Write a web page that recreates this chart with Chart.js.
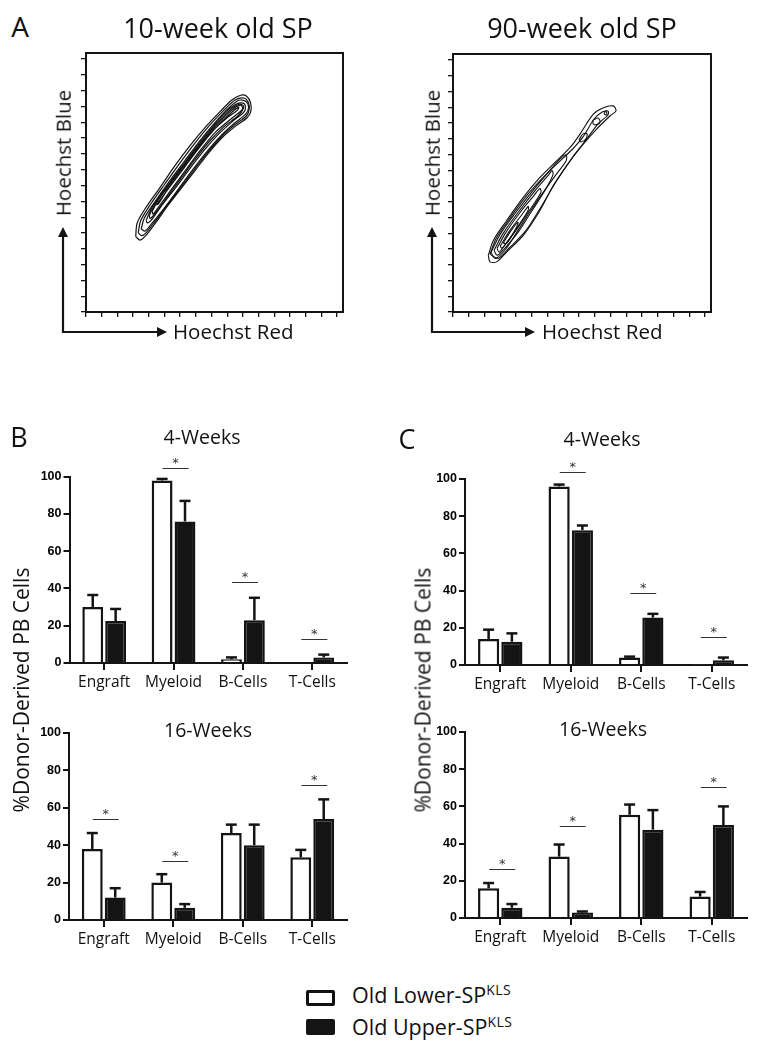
<!DOCTYPE html>
<html><head><meta charset="utf-8">
<script src="https://cdn.jsdelivr.net/npm/chart.js@4.4.1/dist/chart.umd.min.js"></script>
<style>
html,body{margin:0;padding:0;background:#fff;}
body{width:763px;height:1050px;position:relative;overflow:hidden;font-family:'Open Sans',sans-serif;color:#111;}
canvas{position:absolute;}
.t{position:absolute;white-space:nowrap;line-height:1;}
.cc{transform:translate(-50%,-50%);}
.cl{transform:translateY(-50%);}
.rot{transform:translate(-50%,-50%) rotate(-90deg);}
.box{position:absolute;box-sizing:border-box;border:3px solid #111;border-radius:2px;}
sup{font-size:14px;vertical-align:0;position:relative;top:-8px;letter-spacing:0.5px;}
</style></head><body>

<canvas id="sp10"></canvas>
<canvas id="sp90"></canvas>
<canvas id="b4"></canvas>
<canvas id="b16"></canvas>
<canvas id="c4"></canvas>
<canvas id="c16"></canvas>

<div class="t cc" style="left:20px;top:26px;font-size:28px;">A</div>
<div class="t cc" style="left:218px;top:27px;font-size:27px;">10-week old SP</div>
<div class="t cc" style="left:582px;top:27px;font-size:27px;">90-week old SP</div>
<div class="t rot" style="left:63px;top:153px;font-size:20.5px;">Hoechst Blue</div>
<div class="t rot" style="left:432px;top:153px;font-size:20.5px;">Hoechst Blue</div>
<div class="t cl" style="left:173px;top:331px;font-size:20.5px;">Hoechst Red</div>
<div class="t cl" style="left:542px;top:331px;font-size:20.5px;">Hoechst Red</div>

<div class="t cc" style="left:19px;top:436px;font-size:27px;">B</div>
<div class="t cc" style="left:407px;top:438px;font-size:27px;">C</div>
<div class="t cc" style="left:202px;top:437px;font-size:19.5px;">4-Weeks</div>
<div class="t cc" style="left:602px;top:439px;font-size:19.5px;">4-Weeks</div>
<div class="t cc" style="left:208px;top:730px;font-size:19.5px;">16-Weeks</div>
<div class="t cc" style="left:603px;top:729px;font-size:19.5px;">16-Weeks</div>
<div class="t rot" style="left:21px;top:690px;font-size:21px;">%Donor-Derived PB Cells</div>
<div class="t rot" style="left:423px;top:690px;font-size:21px;">%Donor-Derived PB Cells</div>

<div class="box" style="left:306px;top:990px;width:29px;height:16px;background:#fff;"></div>
<div class="box" style="left:306px;top:1019px;width:29px;height:16px;background:#141414;border-color:#141414;"></div>
<div class="t cl" style="left:352px;top:995px;font-size:21.5px;">Old Lower-SP<sup>KLS</sup></div>
<div class="t cl" style="left:352px;top:1027px;font-size:21.5px;">Old Upper-SP<sup>KLS</sup></div>

<script>
// ---------------- DATA ----------------
const categories = ['Engraft', 'Myeloid', 'B-Cells', 'T-Cells'];
const seriesNames = ['Old Lower-SP KLS', 'Old Upper-SP KLS'];

// Panel B, 4 weeks
const lowerB4 = [30, 98, 2, 0];
const lowerB4Err = [6.5, 0.8, 1, 0];
const upperB4 = [22.5, 76, 23, 3];
const upperB4Err = [6.5, 11, 12, 1.5];
const sigB4 = [null, 104.5, 43.5, 13];

// Panel B, 16 weeks
const lowerB16 = [38, 20, 46.5, 33.5];
const lowerB16Err = [8.5, 4.5, 4.5, 4];
const upperB16 = [12, 6.5, 40, 54];
const upperB16Err = [5, 2, 11, 10.5];
const sigB16 = [54, 31.5, null, 72];

// Panel C, 4 weeks
const lowerC4 = [14, 96, 4, 0.4];
const lowerC4Err = [5, 1, 0.5, 0];
const upperC4 = [12.5, 72.5, 25.5, 2.5];
const upperC4Err = [4.5, 2.5, 2, 1.5];
const sigC4 = [null, 103.5, 38.5, 15];

// Panel C, 16 weeks
const lowerC16 = [16, 33, 55.5, 11.5];
const lowerC16Err = [2.8, 6.5, 5.5, 2.5];
const upperC16 = [5.5, 3, 47.5, 50];
const upperC16Err = [2, 0.5, 10.5, 10];
const sigC16 = [26.5, 49.5, null, 70.5];

const yTicksPct = [0, 20, 40, 60, 80, 100];
const channelTicks = [0, 62.5, 125, 187.5, 250, 312.5, 375, 437.5, 500, 562.5, 625, 687.5, 750, 812.5, 875, 937.5, 1000];

// Contours, 10-week old SP (Hoechst Red, Hoechst Blue channels)
const sp10Level1 = [[198,298],[204,352],[240,415],[296,494],[356,581],[416,660],[476,731],[536,794],[580,837],[616,857],[640,853],[656,826],[656,790],[640,766],[596,735],[540,687],[488,628],[436,561],[380,490],[328,423],[280,356],[240,304],[216,284]];
const sp10Level1b = [[208,313],[218,361],[258,427],[314,506],[374,589],[434,668],[494,740],[552,800],[594,838],[628,846],[646,830],[650,800],[638,774],[594,741],[538,691],[484,630],[430,561],[374,488],[320,417],[272,354],[238,312],[222,302]];
const sp10Level2 = [[220,328],[232,371],[276,438],[332,517],[392,596],[452,675],[512,747],[568,806],[608,837],[636,833],[648,810],[636,782],[592,747],[536,695],[480,632],[424,561],[368,486],[312,411],[264,352],[236,320]];
const sp10Level3 = [[240,363],[264,415],[320,494],[380,573],[440,652],[500,727],[560,794],[608,826],[632,822],[632,794],[584,754],[528,703],[468,636],[412,565],[356,490],[300,419],[260,363],[244,352]];
const sp10Level3b = [[252,381],[276,429],[332,506],[392,585],[452,662],[512,735],[570,796],[612,822],[628,812],[608,778],[550,733],[492,675],[434,603],[378,528],[324,455],[280,395],[256,370]];
const sp10Level4 = [[264,399],[288,442],[344,517],[404,596],[464,672],[524,743],[580,798],[616,818],[624,802],[576,762],[516,711],[456,640],[400,565],[344,490],[292,419],[268,387]];
const sp10Level5 = [[280,423],[336,498],[396,577],[456,656],[516,727],[572,782],[608,810],[604,798],[560,766],[504,715],[444,644],[388,569],[328,490],[288,427]];

// Contours, 90-week old SP
const sp90Level1 = [[140,225],[160,284],[213,363],[279,455],[345,534],[398,587],[465,653],[504,706],[557,785],[597,811],[636,818],[647,798],[623,778],[570,726],[517,666],[465,600],[398,502],[345,403],[279,304],[213,238],[173,199],[147,199]];
const sp90Level1b = [[147,229],[171,292],[222,367],[286,454],[353,529],[409,585],[472,644],[516,695],[560,766],[592,794],[615,798],[615,782],[576,747],[528,683],[476,616],[409,517],[353,423],[290,324],[222,253],[179,213]];
const sp90Level2 = [[151,237],[187,308],[246,391],[314,478],[377,553],[425,608],[449,624],[449,600],[409,545],[357,474],[306,399],[258,324],[206,245],[167,213]];
const sp90Level3 = [[163,245],[199,312],[258,395],[326,482],[377,541],[393,561],[397,545],[365,482],[314,403],[258,316],[202,249],[175,225]];
const sp90Level4 = [[175,253],[210,316],[266,395],[318,458],[345,490],[349,474],[306,407],[250,324],[202,261],[183,237]];
const sp90Level5 = [[187,261],[226,324],[274,387],[298,419],[298,403],[258,340],[214,277],[195,253]];
const sp90Level6 = [[199,273],[234,328],[258,356],[250,332],[214,273]];
const sp90Island1 = [[500,683],[516,707],[532,707],[528,687],[508,675]];
const sp90Island2 = [[556,762],[576,770],[584,754],[568,743],[556,747]];
const sp90Island3 = [[599,786],[607,798],[611,782]];

// ---------------- RENDERING ----------------
Chart.defaults.font.family = "'Open Sans', sans-serif";
Chart.defaults.color = '#111';
Chart.defaults.animation = false;
const INK = '#141414';

function placeCanvas(id, box) {
  const el = document.getElementById(id);
  el.width = box.w; el.height = box.h;
  el.style.left = box.left + 'px'; el.style.top = box.top + 'px';
  el.style.width = box.w + 'px'; el.style.height = box.h + 'px';
  return el;
}

const frameArrows = {
  id: 'frameArrows',
  afterDraw(chart, args, opts) {
    const {ctx, chartArea: a} = chart;
    ctx.save();
    ctx.strokeStyle = INK; ctx.fillStyle = INK; ctx.lineWidth = 2;
    ctx.strokeRect(a.left, a.top, a.right - a.left, a.bottom - a.top);
    const ax = a.left + opts.dx, ay = a.bottom + 20;
    const tipY = a.bottom - 85, tipX = a.left + opts.tipX;
    ctx.lineWidth = 2.2;
    ctx.beginPath(); ctx.moveTo(ax, ay + 1); ctx.lineTo(ax, tipY + 8); ctx.stroke();
    ctx.beginPath(); ctx.moveTo(ax - 1, ay); ctx.lineTo(tipX - 8, ay); ctx.stroke();
    ctx.beginPath(); ctx.moveTo(ax, tipY); ctx.lineTo(ax - 5, tipY + 10); ctx.lineTo(ax + 5, tipY + 10); ctx.closePath(); ctx.fill();
    ctx.beginPath(); ctx.moveTo(tipX, ay); ctx.lineTo(tipX - 10, ay - 5); ctx.lineTo(tipX - 10, ay + 5); ctx.closePath(); ctx.fill();
    ctx.restore();
  }
};

function makeContour(id, box, area, contours, arrow, lw) {
  const el = placeCanvas(id, box);
  const axisCommon = {
    type: 'linear', min: 0, max: 1024,
    afterBuildTicks: s => { s.ticks = channelTicks.map(v => ({value: v})); },
    ticks: {display: false},
    grid: {display: true, drawOnChartArea: false, drawTicks: true, tickLength: 5, color: INK, lineWidth: 1.3},
    border: {display: true, color: INK, width: 2}
  };
  new Chart(el, {
    type: 'scatter',
    data: {datasets: contours.map(c => ({
      data: c.concat([c[0]]).map(p => ({x: p[0], y: p[1]})),
      showLine: true, borderColor: '#111', borderWidth: lw, pointRadius: 0, tension: 0.3, fill: false
    }))},
    options: {
      responsive: false, animation: false,
      layout: {padding: {top: area.top - box.top, right: box.left + box.w - area.right, left: 0, bottom: 0}},
      plugins: {legend: {display: false}, tooltip: {enabled: false}, frameArrows: arrow},
      scales: {
        x: Object.assign({}, axisCommon, {position: 'bottom', afterFit: s => { s.height = box.top + box.h - area.bottom; }}),
        y: Object.assign({}, axisCommon, {position: 'left', afterFit: s => { s.width = area.left - box.left; }})
      }
    },
    plugins: [frameArrows]
  });
}

const barExtras = {
  id: 'barExtras',
  afterDatasetsDraw(chart, args, opts) {
    const {ctx} = chart;
    const ys = chart.scales.y, xs = chart.scales.x;
    ctx.save();
    chart.data.datasets.forEach((ds, di) => {
      const meta = chart.getDatasetMeta(di);
      meta.data.forEach((bar, i) => {
        const e = ds.errors[i];
        if (!e) return;
        const top = ys.getPixelForValue(ds.data[i] + e);
        ctx.strokeStyle = INK; ctx.lineWidth = 2.5;
        ctx.beginPath(); ctx.moveTo(bar.x, bar.y); ctx.lineTo(bar.x, top); ctx.stroke();
        ctx.beginPath(); ctx.moveTo(bar.x - 5.5, top); ctx.lineTo(bar.x + 5.5, top); ctx.stroke();
      });
    });
    (opts.sig || []).forEach((lvl, i) => {
      if (lvl == null) return;
      const cx = xs.getPixelForValue(i);
      const py = Math.round(ys.getPixelForValue(lvl)) + 0.5;
      ctx.strokeStyle = '#333'; ctx.lineWidth = 1;
      ctx.beginPath(); ctx.moveTo(cx - 11, py); ctx.lineTo(cx + 15, py); ctx.stroke();
      ctx.fillStyle = '#333'; ctx.font = '13px "DejaVu Sans"';
      ctx.textAlign = 'center'; ctx.textBaseline = 'middle';
      ctx.fillText('*', cx + 2, py - 5);
    });
    ctx.restore();
  }
};

function makeBar(id, box, area, lower, lowerErr, upper, upperErr, sig) {
  const el = placeCanvas(id, box);
  const barCommon = {borderWidth: 2.5, categoryPercentage: 0.66, barPercentage: 0.91, borderSkipped: 'start'};
  new Chart(el, {
    type: 'bar',
    data: {
      labels: categories,
      datasets: [
        Object.assign({label: seriesNames[0], data: lower, errors: lowerErr, backgroundColor: '#ffffff', borderColor: INK}, barCommon),
        Object.assign({label: seriesNames[1], data: upper, errors: upperErr, backgroundColor: INK, borderColor: INK}, barCommon)
      ]
    },
    options: {
      responsive: false, animation: false,
      layout: {padding: {top: area.top - box.top, right: box.left + box.w - area.right, left: 0, bottom: 0}},
      plugins: {legend: {display: false}, tooltip: {enabled: false}, barExtras: {sig}},
      scales: {
        x: {
          grid: {display: true, drawOnChartArea: false, offset: false, tickLength: 7, color: INK, lineWidth: 2},
          border: {display: true, color: INK, width: 2},
          ticks: {font: {size: 15.5}, color: '#111', padding: 3, maxRotation: 0, autoSkip: false},
          afterFit: s => { s.height = box.top + box.h - area.bottom; }
        },
        y: {
          min: 0, max: 100,
          afterBuildTicks: s => { s.ticks = yTicksPct.map(v => ({value: v})); },
          grid: {display: true, drawOnChartArea: false, tickLength: 6, color: INK, lineWidth: 2},
          border: {display: true, color: INK, width: 2},
          ticks: {font: {family: "'Liberation Sans', Arial, sans-serif", weight: 'bold', size: 12.5}, color: '#000', padding: 2},
          afterFit: s => { s.width = area.left - box.left; }
        }
      }
    },
    plugins: [barExtras]
  });
}

makeContour('sp10', {left: 50, top: 40, w: 305, h: 300}, {left: 86, top: 53, right: 343, bottom: 312},
  [sp10Level1, sp10Level1b, sp10Level2, sp10Level3, sp10Level3b, sp10Level4, sp10Level5], {dx: -23, tipX: 81}, 1.2);
makeContour('sp90', {left: 415, top: 40, w: 305, h: 300}, {left: 453, top: 54, right: 711, bottom: 312},
  [sp90Level1, sp90Level1b, sp90Level2, sp90Level3, sp90Level4, sp90Level5, sp90Level6, sp90Island1, sp90Island2, sp90Island3], {dx: -21, tipX: 82}, 1.1);

makeBar('b4', {left: 0, top: 430, w: 360, h: 275}, {left: 69.5, top: 476.7, right: 347, bottom: 663}, lowerB4, lowerB4Err, upperB4, upperB4Err, sigB4);
makeBar('b16', {left: 0, top: 700, w: 360, h: 260}, {left: 69, top: 733, right: 347, bottom: 920}, lowerB16, lowerB16Err, upperB16, upperB16Err, sigB16);
makeBar('c4', {left: 390, top: 430, w: 373, h: 275}, {left: 465, top: 479, right: 747, bottom: 665}, lowerC4, lowerC4Err, upperC4, upperC4Err, sigC4);
makeBar('c16', {left: 390, top: 700, w: 373, h: 260}, {left: 465, top: 732, right: 747, bottom: 918}, lowerC16, lowerC16Err, upperC16, upperC16Err, sigC16);
</script>
</body></html>
